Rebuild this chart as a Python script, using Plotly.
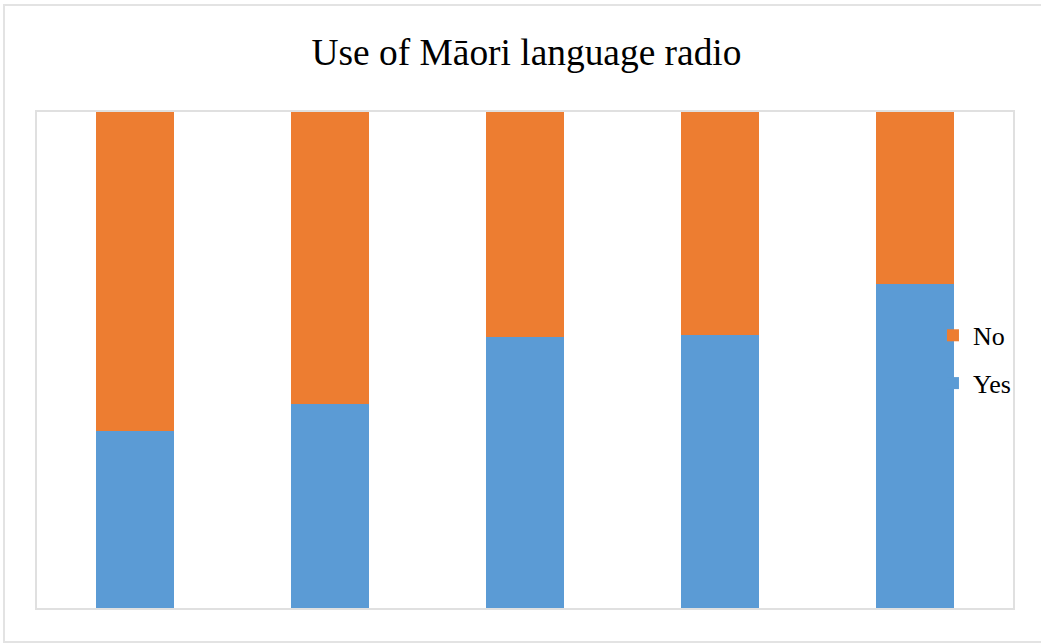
import plotly.graph_objects as go

categories = ["A", "B", "C", "D", "E"]
yes_values = [35.7, 41.1, 54.6, 55.0, 65.3]
no_values = [64.3, 58.9, 45.4, 45.0, 34.7]

fig = go.Figure()
fig.add_trace(go.Bar(x=categories, y=yes_values, name="Yes", marker_color="#5B9BD5",
                     marker_line_width=0, legendgroup="yes", legendrank=2))
fig.add_trace(go.Bar(x=categories, y=no_values, name="No", marker_color="#ED7D31",
                     marker_line_width=0, legendgroup="no", legendrank=1))

fig.update_layout(
    width=1041, height=644,
    barmode="stack", bargap=0.6,
    margin=dict(l=37, r=28, t=112, b=36),
    paper_bgcolor="white", plot_bgcolor="white",
    font=dict(family="Liberation Serif", color="black"),
    title=dict(text="Use of Māori language radio", x=526.5 / 1041, xanchor="center",
               y=1 - 52 / 644, yanchor="middle",
               font=dict(family="Liberation Serif", size=37.4, color="black")),
    showlegend=True,
    legend=dict(x=0.918, xanchor="left", y=0.597, yanchor="top",
                traceorder="grouped", tracegroupgap=11,
                font=dict(family="Liberation Serif", size=26, color="black"),
                bgcolor="rgba(0,0,0,0)"),
    shapes=[dict(type="rect", xref="paper", yref="paper",
                 x0=(4 - 37) / 976, x1=(1046 - 37) / 976,
                 y0=(608 - 642) / 496, y1=(608 - 5) / 496,
                 line=dict(color="#e3e3e3", width=2), layer="below")],
)
fig.update_xaxes(showticklabels=False, showgrid=False, zeroline=False,
                 showline=True, mirror=True, linecolor="#e0e0e0", linewidth=2,
                 layer="below traces", ticks="")
fig.update_yaxes(range=[0, 100], showticklabels=False, showgrid=False, zeroline=False,
                 showline=True, mirror=True, linecolor="#e0e0e0", linewidth=2,
                 layer="below traces", ticks="")

fig.write_html("out.html")
